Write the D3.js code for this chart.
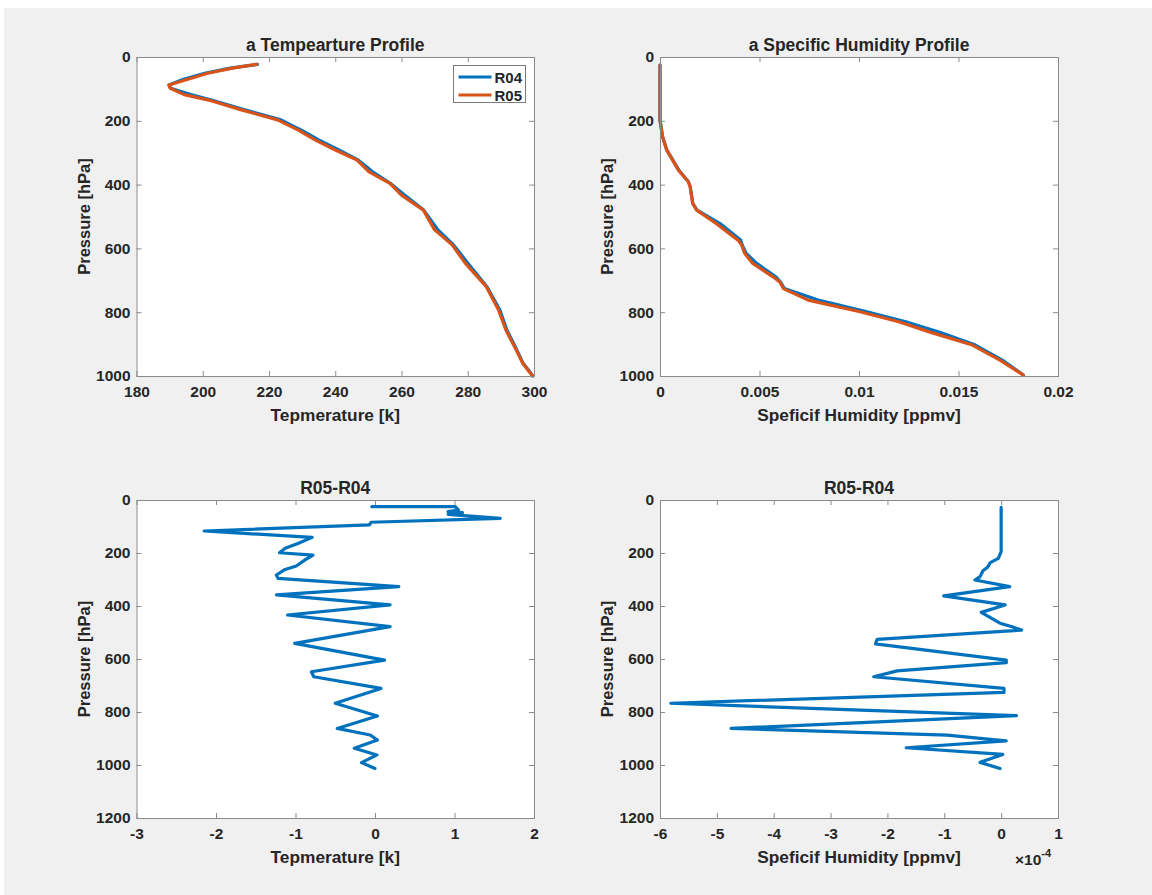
<!DOCTYPE html>
<html>
<head>
<meta charset="utf-8">
<script src="https://cdn.jsdelivr.net/npm/d3@7"></script>
<style>
  body { margin: 0; background: #fff; }
  svg text { font-family: "Liberation Sans", Arial, sans-serif; font-weight: bold; fill: #262626; }
</style>
</head>
<body>
<svg></svg>
<script>
// ---- data ----
// temperature profile (K) vs pressure (hPa)
var pTemp = [23, 35, 51, 70, 88, 98, 118, 135, 165, 197, 230, 260, 290, 323, 360, 396, 433, 480, 542, 589, 647, 720, 793, 856, 918, 960, 986, 1000];
var tempR04 = [216.5, 208.3, 200.6, 194.2, 189.8, 190.3, 196.4, 202.6, 212.4, 223.6, 229.9, 235.0, 240.8, 246.9, 251.3, 256.6, 261.0, 266.7, 271.0, 275.7, 280.1, 285.8, 289.7, 291.8, 294.8, 296.7, 298.7, 299.6];
var tempR05 = [216.2, 209.0, 201.5, 195.5, 189.8, 190.2, 194.4, 201.8, 211.4, 222.6, 229.0, 233.9, 239.7, 246.6, 250.2, 256.5, 260.0, 266.6, 270.0, 275.3, 279.3, 285.6, 289.3, 291.5, 294.6, 296.6, 298.5, 299.6];

// specific humidity profile vs pressure (hPa)
var pHum = [25, 198, 250, 291, 354, 391, 406, 459, 480, 522, 574, 589, 615, 647, 689, 705, 726, 762, 798, 830, 864, 903, 950, 997];
var humR04 = [0, 0, 0.00013, 0.00034, 0.00094, 0.00143, 0.00152, 0.00165, 0.00186, 0.00302, 0.00405, 0.00413, 0.00432, 0.00486, 0.00582, 0.00605, 0.00625, 0.00795, 0.01035, 0.01235, 0.0141, 0.01585, 0.0172, 0.01826];
var humR05 = [0, 0, 0.00013, 0.00033, 0.00092, 0.00142, 0.00151, 0.00164, 0.00184, 0.00282, 0.00392, 0.0041, 0.00425, 0.00466, 0.00568, 0.00602, 0.0062, 0.00745, 0.0100, 0.0120, 0.01365, 0.0157, 0.01708, 0.01826];

// R05-R04 temperature difference (K)
var pDiffT = [25, 25, 38, 44, 48, 54, 69, 84, 94, 117, 141, 164, 182, 199, 208, 226, 249, 262, 283, 296, 327, 358, 396, 434, 478, 541, 604, 648, 667, 711, 767, 815, 862, 887, 906, 937, 962, 991, 1013];
var diffT = [-0.04, 1.01, 1.05, 0.92, 1.10, 0.92, 1.575, -0.05, -0.07, -2.15, -0.79, -0.97, -1.13, -1.20, -0.78, -0.88, -0.99, -1.13, -1.24, -1.22, 0.30, -1.24, 0.19, -1.10, 0.19, -1.01, 0.12, -0.80, -0.77, 0.075, -0.50, 0.03, -0.475, -0.06, 0.03, -0.26, 0.025, -0.17, 0.0];

// R05-R04 specific humidity difference (x 1e-4)
var pDiffQ = [28, 195, 220, 236, 254, 267, 289, 302, 327, 362, 396, 424, 465, 478, 491, 526, 543, 604, 614, 645, 667, 711, 726, 767, 814, 862, 887, 909, 935, 960, 990, 1013];
var diffQ = [0, 0, -0.05, -0.19, -0.24, -0.32, -0.37, -0.46, 0.15, -1.01, 0.07, -0.35, -0.02, 0.19, 0.36, -2.18, -2.21, 0.09, 0.09, -1.83, -2.24, 0.05, 0.05, -5.81, 0.27, -4.75, -0.95, 0.09, -1.67, 0.03, -0.37, -0.02];

var blue = "#0072BD", orange = "#D95319";

var width = 1152, height = 895;
var svg = d3.select("svg").attr("width", width).attr("height", height);

svg.append("rect")
  .attr("x", 4).attr("y", 8)
  .attr("width", width - 4).attr("height", height - 8)
  .attr("fill", "#f0f0f0");

function zip(ps, vs) {
  return ps.map(function(p, i) { return { p: p, v: vs[i] }; });
}

function drawPanel(cfg) {
  var x = d3.scaleLinear().domain(cfg.xDomain).range([cfg.left, cfg.right]);
  var y = d3.scaleLinear().domain(cfg.yDomain).range([cfg.top, cfg.bottom]);
  var g = svg.append("g");

  g.append("rect")
    .attr("x", cfg.left).attr("y", cfg.top)
    .attr("width", cfg.right - cfg.left).attr("height", cfg.bottom - cfg.top)
    .attr("fill", "#fff");

  var line = d3.line()
    .x(function(d) { return x(d.v); })
    .y(function(d) { return y(d.p); });

  cfg.series.forEach(function(s) {
    g.append("path")
      .datum(zip(s.p, s.v))
      .attr("d", line)
      .attr("fill", "none")
      .attr("stroke", s.color)
      .attr("stroke-width", 3.2)
      .attr("stroke-linejoin", "round")
      .attr("stroke-linecap", "round");
  });

  // axes, ticks pointing inward on all four sides
  var bottom = g.append("g").attr("transform", "translate(0," + cfg.bottom + ")")
    .call(d3.axisBottom(x).tickValues(cfg.xTicks).tickSizeInner(-5).tickSizeOuter(0)
      .tickPadding(10).tickFormat(function(d) { return d; }));
  var left = g.append("g").attr("transform", "translate(" + cfg.left + ",0)")
    .call(d3.axisLeft(y).tickValues(cfg.yTicks).tickSizeInner(-5).tickSizeOuter(0)
      .tickPadding(6).tickFormat(function(d) { return d; }));
  var top = g.append("g").attr("transform", "translate(0," + cfg.top + ")")
    .call(d3.axisTop(x).tickValues(cfg.xTicks).tickSizeInner(-5).tickSizeOuter(0).tickFormat(""));
  var right = g.append("g").attr("transform", "translate(" + cfg.right + ",0)")
    .call(d3.axisRight(y).tickValues(cfg.yTicks).tickSizeInner(-5).tickSizeOuter(0).tickFormat(""));

  [bottom, left, top, right].forEach(function(a) {
    a.select(".domain").remove();
    a.selectAll("line").attr("stroke", "#8a8a8a");
    a.selectAll("text").attr("font-size", 15.5).attr("font-family", null).attr("fill", "#262626");
  });

  g.append("rect")
    .attr("x", cfg.left + 0.5).attr("y", cfg.top + 0.5)
    .attr("width", cfg.right - cfg.left).attr("height", cfg.bottom - cfg.top)
    .attr("fill", "none").attr("stroke", "#8a8a8a");

  var cx = (cfg.left + cfg.right) / 2;
  g.append("text")
    .attr("x", cx).attr("y", cfg.top - 6)
    .attr("text-anchor", "middle").attr("font-size", 17.5)
    .text(cfg.title);

  g.append("text")
    .attr("x", cx).attr("y", cfg.bottom + 45)
    .attr("text-anchor", "middle").attr("font-size", 17.3)
    .text(cfg.xLabel);

  g.append("text")
    .attr("transform", "translate(" + (cfg.left - 47) + "," + ((cfg.top + cfg.bottom) / 2) + ") rotate(-90)")
    .attr("text-anchor", "middle").attr("font-size", 16.5)
    .text("Pressure [hPa]");

  return { x: x, y: y, g: g };
}

drawPanel({
  left: 136.5, right: 534, top: 57, bottom: 376,
  xDomain: [180, 300], yDomain: [0, 1000],
  xTicks: d3.range(180, 301, 20), yTicks: d3.range(0, 1001, 200),
  title: "a Tempearture Profile", xLabel: "Tepmerature [k]",
  series: [
    { p: pTemp, v: tempR04, color: blue },
    { p: pTemp, v: tempR05, color: orange }
  ]
});

drawPanel({
  left: 660, right: 1058, top: 57, bottom: 376,
  xDomain: [0, 0.02], yDomain: [0, 1000],
  xTicks: [0, 0.005, 0.01, 0.015, 0.02], yTicks: d3.range(0, 1001, 200),
  title: "a Specific Humidity Profile", xLabel: "Speficif Humidity [ppmv]",
  series: [
    { p: pHum, v: humR04, color: blue },
    { p: pHum, v: humR05, color: orange }
  ]
});

drawPanel({
  left: 136.5, right: 534, top: 500, bottom: 818,
  xDomain: [-3, 2], yDomain: [0, 1200],
  xTicks: d3.range(-3, 3, 1), yTicks: d3.range(0, 1201, 200),
  title: "R05-R04", xLabel: "Tepmerature [k]",
  series: [{ p: pDiffT, v: diffT, color: blue }]
});

drawPanel({
  left: 660, right: 1058, top: 500, bottom: 818,
  xDomain: [-6, 1], yDomain: [0, 1200],
  xTicks: d3.range(-6, 2, 1), yTicks: d3.range(0, 1201, 200),
  title: "R05-R04", xLabel: "Speficif Humidity [ppmv]",
  series: [{ p: pDiffQ, v: diffQ, color: blue }]
});

// exponent label for the humidity difference axis
var expo = svg.append("text")
  .attr("x", 1015).attr("y", 865)
  .attr("font-size", 15.5).attr("font-weight", "normal");
expo.append("tspan").text("\u00d710");
expo.append("tspan").attr("dy", -8).attr("font-size", 11).text("-4");

// legend in the temperature panel
var legend = svg.append("g").attr("transform", "translate(453.5,65.5)");
legend.append("rect")
  .attr("width", 72).attr("height", 37)
  .attr("fill", "#fff").attr("stroke", "#7a7a7a");
[{ name: "R04", color: blue }, { name: "R05", color: orange }].forEach(function(d, i) {
  var yy = 11.5 + i * 18;
  legend.append("line")
    .attr("x1", 5).attr("x2", 38).attr("y1", yy).attr("y2", yy)
    .attr("stroke", d.color).attr("stroke-width", 3.2);
  legend.append("text")
    .attr("x", 41).attr("y", yy + 5.5)
    .attr("font-size", 15)
    .text(d.name);
});
</script>
</body>
</html>
